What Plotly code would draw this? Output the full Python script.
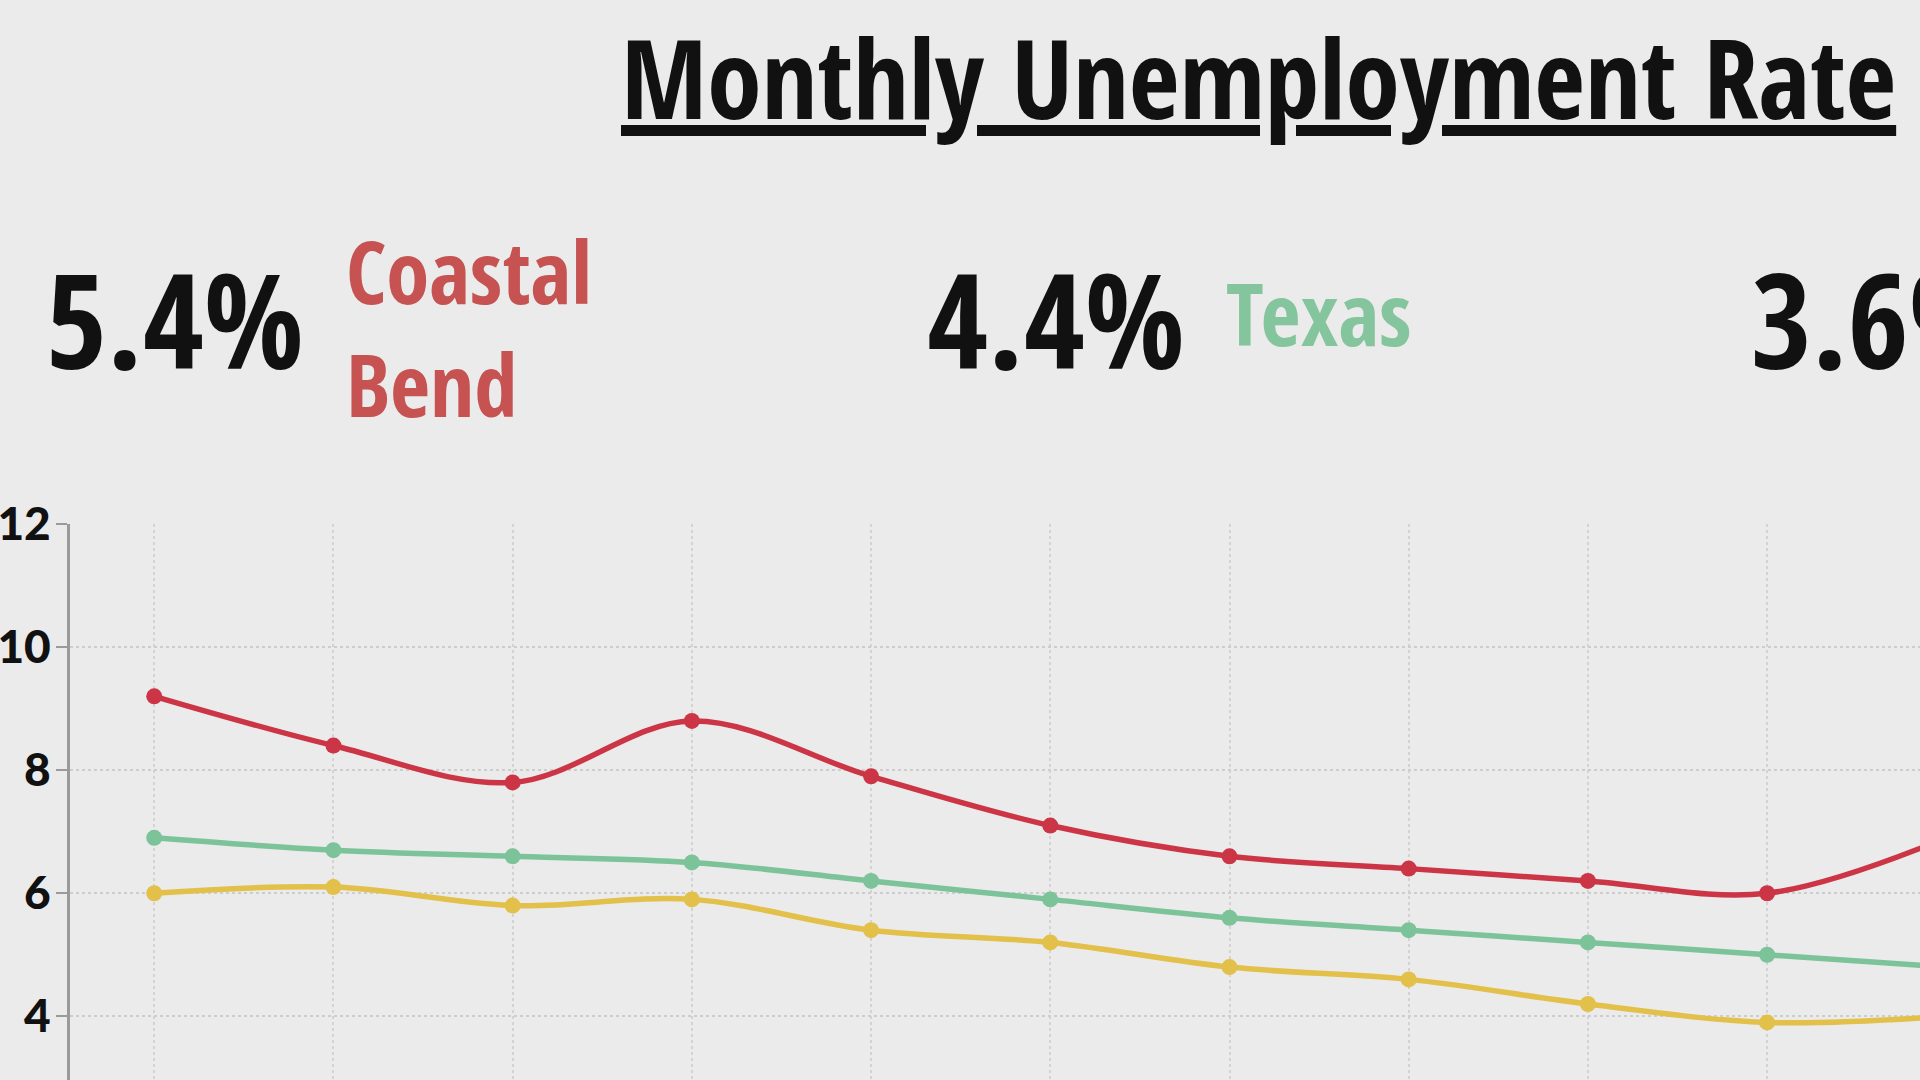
import plotly.graph_objects as go

# ---- data ----
months = ["M1", "M2", "M3", "M4", "M5", "M6", "M7", "M8", "M9", "M10", "M11"]
coastal_bend = [9.2, 8.4, 7.8, 8.8, 7.9, 7.1, 6.6, 6.4, 6.2, 6.0, 6.9]
texas = [6.9, 6.7, 6.6, 6.5, 6.2, 5.9, 5.6, 5.4, 5.2, 5.0, 4.8]
us = [6.0, 6.1, 5.8, 5.9, 5.4, 5.2, 4.8, 4.6, 4.2, 3.9, 4.0]
y_ticks = [4, 6, 8, 10, 12]
headline_values = ["5.4%", "4.4%", "3.6%"]
headline_names = ["Coastal<br>Bend", "Texas", "U.S."]

RED = "#cc3546"
GREEN = "#7cc39a"
YELLOW = "#e2c04a"
BG = "#ebebeb"

W, H = 1920, 1080
ML, MT = 70, 524
PW, PH = W - ML, H - MT


def px(x):
    return (x - ML) / PW


def py(y):
    return (H - y) / PH


xs = list(range(len(months)))

fig = go.Figure()
for vals, col, name in [(us, YELLOW, "U.S."), (texas, GREEN, "Texas"), (coastal_bend, RED, "Coastal Bend")]:
    fig.add_trace(go.Scatter(
        x=xs, y=vals, name=name, mode="lines+markers",
        line=dict(color=col, width=5.5, shape="spline", smoothing=1.0),
        marker=dict(color=col, size=16),
        cliponaxis=True,
        hoverinfo="skip",
    ))

cond = "Open Sans Condensed, Roboto Condensed, DejaVu Sans Condensed, Liberation Sans Narrow, Roboto, Open Sans"

annotations = [
    dict(text="Monthly Unemployment Rate", x=px(1898), y=py(76), xanchor="right", yanchor="middle",
         font=dict(family=cond, size=110, color="#111111", weight=700, lineposition="under")),
    dict(text=headline_values[0], x=px(44), y=py(318), xanchor="left", yanchor="middle",
         font=dict(family=cond, size=132, color="#111111", weight=700)),
    dict(text=headline_names[0], x=px(344), y=py(326), xanchor="left", yanchor="middle", align="left",
         font=dict(family=cond, size=87, color="#c65252", weight=700)),
    dict(text=headline_values[1], x=px(925), y=py(318), xanchor="left", yanchor="middle",
         font=dict(family=cond, size=132, color="#111111", weight=700)),
    dict(text=headline_names[1], x=px(1224), y=py(312), xanchor="left", yanchor="middle", align="left",
         font=dict(family=cond, size=87, color="#85c59d", weight=700)),
    dict(text=headline_values[2], x=px(1749), y=py(318), xanchor="left", yanchor="middle",
         font=dict(family=cond, size=132, color="#111111", weight=700)),
]
for a in annotations:
    a.update(xref="paper", yref="paper", showarrow=False)

fig.update_layout(
    width=W, height=H,
    margin=dict(l=ML, r=0, t=MT, b=0, pad=0, autoexpand=False),
    paper_bgcolor=BG, plot_bgcolor=BG,
    showlegend=False,
    annotations=annotations,
    xaxis=dict(
        range=[-0.47, 9.853], tickmode="array", tickvals=xs[:-1], ticktext=months[:-1],
        showticklabels=False, ticks="", showgrid=True, gridcolor="#d3d3d3", griddash="dot", gridwidth=2,
        zeroline=False, showline=False, automargin=False,
    ),
    yaxis=dict(
        range=[2.965, 12], tickmode="array", tickvals=y_ticks,
        showgrid=True, gridcolor="#cdcdcd", griddash="dot", gridwidth=2,
        showline=True, linecolor="#9a9a9a", linewidth=3,
        ticks="outside", ticklen=11, tickwidth=2, tickcolor="#9a9a9a",
        ticklabelstandoff=-4, automargin=False,
        tickfont=dict(family="Lato, Inter, Roboto", size=46, color="#111111", weight=900),
        zeroline=False,
    ),
)

fig.write_html("out.html")
